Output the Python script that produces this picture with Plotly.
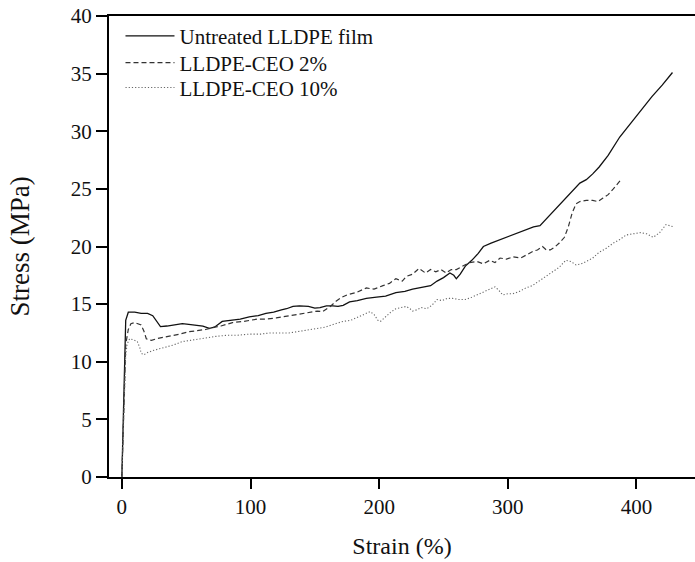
import plotly.graph_objects as go

# Untreated LLDPE film
strain_untreated = [0, 1, 2, 3, 5, 10, 15, 20, 24, 27,
                    30, 35, 40, 47, 52, 58, 63, 68, 72, 78,
                    85, 92, 99, 106, 112, 118, 124, 128, 133, 138,
                    145, 150, 154, 159, 164, 168, 172, 177, 183, 190,
                    198, 205, 213, 220, 226, 234, 240, 245, 250, 255,
                    258, 260, 263, 267, 272, 277, 281, 287, 294, 300,
                    308, 315, 320, 325, 330, 337, 343, 350, 356, 361,
                    366, 371, 378, 387, 395, 403, 412, 420, 428]
stress_untreated = [0, 4.5, 9.5, 13.6, 14.3, 14.3, 14.2, 14.2, 14.0, 13.5,
                    13.05, 13.1, 13.2, 13.3, 13.25, 13.2, 13.1, 12.9, 13.0, 13.5,
                    13.6, 13.7, 13.9, 14.0, 14.2, 14.3, 14.5, 14.6, 14.8, 14.85,
                    14.8, 14.65, 14.7, 14.85, 14.85, 14.8, 14.9, 15.2, 15.3, 15.5,
                    15.6, 15.7, 16.0, 16.1, 16.3, 16.5, 16.6, 17.0, 17.3, 17.7,
                    17.5, 17.2, 17.6, 18.3, 18.8, 19.4, 20.0, 20.3, 20.6, 20.9,
                    21.2, 21.5, 21.7, 21.8, 22.4, 23.3, 24.0, 24.8, 25.5, 25.8,
                    26.3, 26.9, 27.9, 29.5, 30.6, 31.8, 33.0, 34.0, 35.1]

# LLDPE-CEO 2%
strain_ceo2 = [0, 1, 2, 3, 5, 7, 10, 13, 15, 17,
               19, 21, 23, 27, 32, 38, 45, 52, 60, 65,
               72, 77, 86, 95, 105, 112, 120, 130, 138, 146,
               152, 156, 162, 167, 171, 175, 182, 190, 196, 203,
               208, 213, 218, 221, 226, 231, 236, 240, 244, 248,
               252, 256, 260, 265, 270, 276, 281, 286, 290, 294,
               299, 304, 310, 315, 320, 323, 327, 330, 333, 337,
               340, 344, 347, 350, 353, 356, 361, 366, 370, 374,
               378, 382, 385, 388]
stress_ceo2 = [0, 4, 8, 11.5, 12.8, 13.3, 13.4, 13.3, 13.2, 12.7,
               12.0, 11.9, 11.85, 12.0, 12.1, 12.2, 12.4, 12.6, 12.7, 12.8,
               13.0, 13.1, 13.4, 13.5, 13.7, 13.7, 13.8, 14.0, 14.1, 14.3,
               14.4, 14.35, 14.8, 15.3, 15.6, 15.8, 16.0, 16.4, 16.3, 16.6,
               16.8, 17.2, 17.0, 17.4, 17.6, 18.1, 17.7, 18.0, 17.8, 18.0,
               17.7, 18.0, 18.0, 18.3, 18.6, 18.7, 18.5, 18.8, 18.6, 19.0,
               18.9, 19.1, 19.0, 19.3, 19.6, 19.7, 20.0, 19.7, 19.7, 20.0,
               20.3, 20.8, 21.7, 22.9, 23.7, 23.9, 24.0, 24.0, 23.9, 24.2,
               24.5, 25.0, 25.4, 25.8]

# LLDPE-CEO 10%
strain_ceo10 = [0, 1, 2, 3, 4, 6, 9, 12, 14, 15,
                17, 20, 25, 32, 40, 47, 55, 63, 73, 82,
                90, 99, 108, 115, 120, 125, 130, 136, 142, 151,
                158, 166, 172, 178, 182, 186, 190, 193, 196, 199,
                201, 205, 209, 213, 218, 221, 224, 226, 229, 233,
                237, 241, 245, 249, 253, 257, 262, 267, 272, 278,
                284, 290, 293, 296, 300, 304, 309, 314, 319, 324,
                330, 335, 340, 345, 349, 353, 357, 361, 366, 371,
                376, 382, 387, 392, 397, 403, 408, 413, 418, 423,
                426, 429]
stress_ceo10 = [0, 3.5, 7.5, 10.5, 11.5, 12.0, 11.9, 11.75, 11.2, 10.75,
                10.6, 10.8, 11.0, 11.2, 11.45, 11.75, 11.9, 12.0, 12.2, 12.3,
                12.3, 12.4, 12.4, 12.5, 12.5, 12.45, 12.5, 12.6, 12.7, 12.9,
                13.0, 13.3, 13.5, 13.6, 13.8, 14.0, 14.2, 14.35, 14.1, 13.6,
                13.5, 13.9, 14.3, 14.6, 14.7, 14.8, 14.6, 14.4, 14.5, 14.7,
                14.6, 14.9, 15.4, 15.3, 15.5, 15.5, 15.4, 15.4, 15.6, 15.9,
                16.2, 16.5, 16.2, 15.8, 15.9, 15.9, 16.1, 16.4, 16.6, 17.0,
                17.4, 17.8, 18.2, 18.8, 18.7, 18.4, 18.5, 18.7, 19.0, 19.5,
                19.8, 20.3, 20.6, 21.0, 21.1, 21.2, 21.1, 20.8, 21.2, 21.9,
                21.8, 21.7]

series_names = ["Untreated LLDPE film", "LLDPE-CEO 2%", "LLDPE-CEO 10%"]
x_ticks = [0, 100, 200, 300, 400]
y_ticks = [0, 5, 10, 15, 20, 25, 30, 35, 40]

FONT = "Liberation Serif, Times New Roman, serif"
INK = "#111111"

fig = go.Figure()
fig.add_trace(go.Scatter(x=strain_untreated, y=stress_untreated, mode="lines",
                         name=series_names[0], legend="legend",
                         line=dict(color=INK, width=1.3)))
fig.add_trace(go.Scatter(x=strain_ceo2, y=stress_ceo2, mode="lines",
                         name=series_names[1], legend="legend2",
                         line=dict(color="#333333", width=1.2, dash="5px,3px")))
fig.add_trace(go.Scatter(x=strain_ceo10, y=stress_ceo10, mode="lines",
                         name=series_names[2], legend="legend3",
                         line=dict(color="#666666", width=1.1, dash="1.2px,2px")))

def legend_box(ypos):
    return dict(x=0.0196, y=ypos, xanchor="left", yanchor="middle",
                bgcolor="rgba(0,0,0,0)", borderwidth=0,
                font=dict(family=FONT, size=21, color=INK),
                itemwidth=49)

fig.update_layout(
    width=695, height=562,
    margin=dict(l=109, r=0, t=16, b=85, pad=0),
    paper_bgcolor="white", plot_bgcolor="white",
    font=dict(family=FONT, size=21, color=INK),
    showlegend=True,
    legend=legend_box(0.956),
    legend2=legend_box(0.898),
    legend3=legend_box(0.844),
    xaxis=dict(range=[-10, 445.5], tickvals=x_ticks, ticktext=[str(v) for v in x_ticks],
               showgrid=False, zeroline=False,
               showline=True, linecolor="black", linewidth=2, mirror=True,
               ticks="outside", ticklen=10, tickwidth=2, tickcolor="black",
               tickfont=dict(family=FONT, size=21, color=INK),
               title=dict(text="Strain (%)", font=dict(family=FONT, size=24, color=INK),
                          standoff=19)),
    yaxis=dict(range=[0, 40], tickvals=y_ticks, ticktext=[str(v) for v in y_ticks],
               showgrid=False, zeroline=False,
               showline=True, linecolor="black", linewidth=2, mirror=False,
               ticks="outside", ticklen=11, tickwidth=2, tickcolor="black",
               tickfont=dict(family=FONT, size=21, color=INK),
               title=dict(text="Stress (MPa)", font=dict(family=FONT, size=27, color=INK),
                          standoff=33)),
)

fig.write_html("out.html")
